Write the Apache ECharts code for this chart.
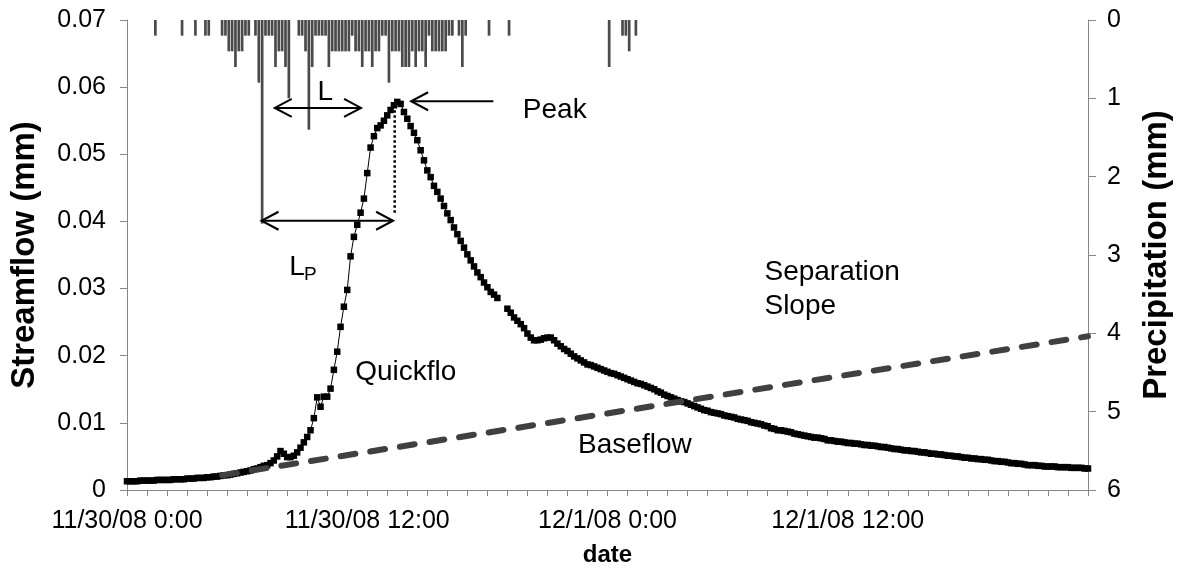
<!DOCTYPE html>
<html><head><meta charset="utf-8">
<script src="https://cdn.jsdelivr.net/npm/echarts@6/dist/echarts.min.js"></script>
<style>html,body{margin:0;padding:0;background:#fff;}#chart{width:1181px;height:577px;}</style>
</head><body><div id="chart"></div>
<script>
// ---- data (10-minute time steps starting 11/30/08 0:00) ----
const stepMinutes = 10;
const xTickLabels = {0: '11/30/08 0:00', 12: '11/30/08 12:00', 24: '12/1/08 0:00', 36: '12/1/08 12:00'};
// streamflow (mm) every 10 minutes, index 0 = 11/30/08 0:00, null = missing record
const streamflow = [
0.0013,0.0013,0.0013,0.0013,0.0014,0.0014,
0.0014,0.0014,0.0014,0.0015,0.0015,0.0015,
0.0015,0.0015,0.0016,0.0016,0.0016,0.0016,
0.0017,0.0017,0.0017,0.0018,0.0018,0.0018,
0.0019,0.0019,0.0020,0.0020,0.0021,0.0022,
0.0022,0.0023,0.0024,0.0025,0.0026,0.0027,
0.0028,0.0029,0.0031,0.0032,0.0034,0.0036,
0.0037,0.0040,0.0044,0.0050,0.0058,0.0054,
0.0049,0.0049,0.0051,0.0056,0.0063,0.0071,
0.0079,0.0089,0.0107,0.0138,0.0124,0.0139,
0.0139,0.0151,0.0179,0.0206,0.0243,0.0273,
0.0298,0.0348,0.0377,0.0395,0.0413,0.0434,
0.0472,0.0510,0.0527,0.0539,0.0543,0.0550,
0.0558,0.0566,0.0573,0.0578,0.0575,0.0563,
0.0553,0.0542,0.0532,0.0521,0.0506,0.0491,
0.0476,0.0466,0.0453,0.0444,0.0434,0.0423,
0.0412,0.0402,0.0391,0.0381,0.0371,0.0361,
0.0351,0.0342,0.0333,0.0324,0.0317,0.0309,
0.0302,0.0295,0.0291,0.0286,null,null,
0.0270,0.0264,0.0257,0.0252,0.0247,0.0241,
0.0233,0.0227,0.0223,0.0223,0.0224,0.0226,
0.0227,0.0227,0.0223,0.0218,0.0214,0.0210,
0.0207,0.0203,0.0199,0.0196,0.0193,0.0190,
0.0187,0.0186,0.0184,0.0182,0.0180,0.0178,
0.0176,0.0174,0.0173,0.0171,0.0169,0.0167,
0.0165,0.0163,0.0161,0.0159,0.0158,0.0156,
0.0154,0.0152,0.0150,0.0147,0.0145,0.0142,
0.0140,0.0138,0.0136,0.0134,0.0132,0.0131,
0.0129,0.0127,0.0125,0.0123,0.0121,0.0119,
0.0118,0.0116,0.0115,0.0114,0.0113,0.0111,
0.0110,0.0109,0.0108,0.0106,0.0105,0.0104,
0.0103,0.0101,0.0100,0.0099,0.0098,0.0096,
0.0095,0.0092,0.0091,0.0089,0.0089,0.0088,
0.0087,0.0086,0.0084,0.0083,0.0082,0.0081,
0.0080,0.0079,0.0078,0.0078,0.0077,0.0076,
0.0074,0.0074,0.0073,0.0072,0.0072,0.0071,
0.0070,0.0070,0.0069,0.0069,0.0068,0.0067,
0.0067,0.0066,0.0066,0.0065,0.0064,0.0064,
0.0063,0.0062,0.0061,0.0061,0.0060,0.0059,
0.0059,0.0058,0.0058,0.0057,0.0056,0.0056,
0.0055,0.0054,0.0054,0.0053,0.0053,0.0052,
0.0051,0.0051,0.0050,0.0050,0.0049,0.0048,
0.0048,0.0047,0.0047,0.0046,0.0046,0.0045,
0.0045,0.0044,0.0043,0.0043,0.0042,0.0042,
0.0041,0.0040,0.0040,0.0039,0.0039,0.0038,
0.0037,0.0037,0.0037,0.0036,0.0036,0.0035,
0.0035,0.0035,0.0035,0.0034,0.0034,0.0034,
0.0034,0.0033,0.0033,0.0033,0.0033,0.0032,
0.0032
];
// precipitation: 10-minute interval number (from 11/30/08 0:00) and depth (mm)
const precipInterval = [8,16,20,23,24,28,29,30,31,32,33,34,35,36,38,39,40,41,42,43,44,45,46,47,48,
  51,52,53,54,55,56,57,58,59,60,61,62,63,64,65,66,67,68,69,70,71,72,73,74,
  75,76,77,78,79,80,81,82,83,84,85,86,87,88,89,90,91,92,93,94,95,96,97,
  99,100,101,108,114,144,148,149,150,152];
const precipMm = [0.2,0.2,0.2,0.2,0.2,0.2,0.2,0.4,0.4,0.6,0.4,0.4,0.2,0.2,0.2,0.8,2.6,0.2,0.2,0.2,0.6,0.4,0.4,0.6,1.0,
  0.2,0.2,0.4,1.4,0.6,0.2,0.2,0.2,0.2,0.6,0.4,0.4,0.4,0.4,0.4,0.4,0.2,0.4,0.4,0.6,0.4,0.4,0.6,0.4,
  0.4,0.2,0.2,0.8,0.4,0.4,0.4,0.6,0.6,0.6,0.4,0.6,0.4,0.4,0.6,0.2,0.4,0.4,0.4,0.4,0.4,0.2,0.2,
  0.2,0.6,0.2,0.2,0.2,0.6,0.2,0.2,0.4,0.2];
// baseflow separation line (hours from start, mm)
const baseflowHours = [4.75, 48];
const baseflowValues = [0.0022, 0.0229];

// ---- chart ----
const FONT = '"Liberation Sans", Arial, Helvetica, sans-serif';
const stepH = stepMinutes / 60;
const flowData = streamflow.map((v, i) => [i * stepH, v]);
const rainData = precipInterval.map((k, j) => [(k + 0.5) * stepH, precipMm[j]]);
const baseData = baseflowHours.map((h, j) => [h, baseflowValues[j]]);
const axisGray = '#868686';

const chart = echarts.init(document.getElementById('chart'), null, {renderer: 'canvas'});
chart.setOption({
  animation: false,
  backgroundColor: '#fff',
  grid: {left: 118.6, right: 88, top: 20, bottom: 87, containLabel: false},
  xAxis: {
    type: 'value', min: 0, max: 48, interval: 1,
    name: 'date', nameLocation: 'middle', nameGap: 53,
    nameTextStyle: {fontFamily: FONT, fontWeight: 'bold', fontSize: 24, color: '#000'},
    axisLine: {lineStyle: {color: axisGray, width: 1}},
    axisTick: {length: 6, lineStyle: {color: axisGray}},
    splitLine: {show: false},
    axisLabel: {fontFamily: FONT, fontSize: 25, color: '#000', margin: 19, hideOverlap: false,
      formatter: v => (xTickLabels[Math.round(v)] !== undefined && Math.abs(v - Math.round(v)) < 1e-6) ? xTickLabels[Math.round(v)] : ''}
  },
  yAxis: [{
    type: 'value', min: 0, max: 0.07, interval: 0.01,
    name: 'Streamflow (mm)', nameLocation: 'middle', nameRotate: 90, nameGap: 86,
    nameTextStyle: {fontFamily: FONT, fontWeight: 'bold', fontSize: 33, color: '#000'},
    axisLine: {show: true, lineStyle: {color: axisGray, width: 1}},
    axisTick: {show: true, length: 7, lineStyle: {color: axisGray}},
    splitLine: {show: false},
    axisLabel: {fontFamily: FONT, fontSize: 25, color: '#000', margin: 21,
      formatter: v => v === 0 ? '0' : v.toFixed(2)}
  }, {
    type: 'value', position: 'right', min: 0, max: 6, interval: 1, inverse: true,
    name: 'Precipitation (mm)', nameLocation: 'middle', nameRotate: 90, nameGap: 52,
    nameTextStyle: {fontFamily: FONT, fontWeight: 'bold', fontSize: 33, color: '#000'},
    axisLine: {show: true, lineStyle: {color: axisGray, width: 1}},
    axisTick: {show: true, length: 8, lineStyle: {color: axisGray}},
    splitLine: {show: false},
    axisLabel: {fontFamily: FONT, fontSize: 25, color: '#000', margin: 19}
  }],
  series: [
    {name: 'Precipitation', type: 'bar', yAxisIndex: 1, data: rainData, barWidth: 2.7,
      itemStyle: {color: '#4a4a4a'}, z: 2, silent: true},
    {name: 'Streamflow', type: 'line', data: flowData, symbol: 'rect', symbolSize: 6.5,
      showSymbol: true, connectNulls: false,
      lineStyle: {color: '#000', width: 1}, itemStyle: {color: '#000'}, z: 3, silent: true},
    {name: 'Baseflow', type: 'line', data: baseData, symbol: 'none',
      lineStyle: {color: '#404040', width: 6, type: [15, 15], cap: 'round'}, z: 4, silent: true}
  ]
});

// ---- annotations (placed in data coordinates: [hours, streamflow mm]) ----
const annoTexts = [
  {text: 'L', at: [9.51, 0.0593], size: 28},
  {text: 'L', at: [8.10, 0.0332], size: 28},
  {text: 'P', at: [8.84, 0.0321], size: 19},
  {text: 'Quickflo', at: [11.40, 0.0176], size: 28},
  {text: 'Peak', at: [19.77, 0.0566], size: 28},
  {text: 'Separation', at: [31.84, 0.0324], size: 28},
  {text: 'Slope', at: [31.84, 0.0274], size: 28},
  {text: 'Baseflow', at: [22.53, 0.0067], size: 28}
];
const annoArrows = [
  {from: [7.38, 0.0569], to: [11.69, 0.0569], both: true},
  {from: [6.72, 0.0401], to: [13.29, 0.0401], both: true},
  {from: [18.30, 0.0579], to: [14.19, 0.0579], both: false}
];
const peakDrop = {from: [13.37, 0.0573], to: [13.37, 0.0410]};

const P = p => chart.convertToPixel({xAxisIndex: 0, yAxisIndex: 0}, p);
const g = [];
annoTexts.forEach(t => {
  const [x, y] = P(t.at);
  g.push({type: 'text', x, y, silent: true, z: 10,
    style: {text: t.text, fontFamily: FONT, fontSize: t.size, fill: '#000', align: 'left', verticalAlign: 'middle'}});
});
function head(tip, dir) {
  const L = 17, W = 9;
  return {type: 'polyline', silent: true, z: 10,
    shape: {points: [[tip[0] + dir * L, tip[1] - W], tip, [tip[0] + dir * L, tip[1] + W]]},
    style: {stroke: '#000', lineWidth: 2, fill: null}};
}
annoArrows.forEach(a => {
  const p1 = P(a.from), p2 = P(a.to);
  g.push({type: 'line', silent: true, z: 10, shape: {x1: p1[0], y1: p1[1], x2: p2[0], y2: p2[1]},
    style: {stroke: '#000', lineWidth: 2}});
  const dir2 = p2[0] > p1[0] ? -1 : 1;
  g.push(head(p2, dir2));
  if (a.both) g.push(head(p1, -dir2));
});
{
  const p1 = P(peakDrop.from), p2 = P(peakDrop.to);
  g.push({type: 'line', silent: true, z: 10, shape: {x1: p1[0], y1: p1[1], x2: p2[0], y2: p2[1]},
    style: {stroke: '#000', lineWidth: 2.5, lineDash: [2.5, 2.5]}});
}
chart.setOption({graphic: g});
</script></body></html>
